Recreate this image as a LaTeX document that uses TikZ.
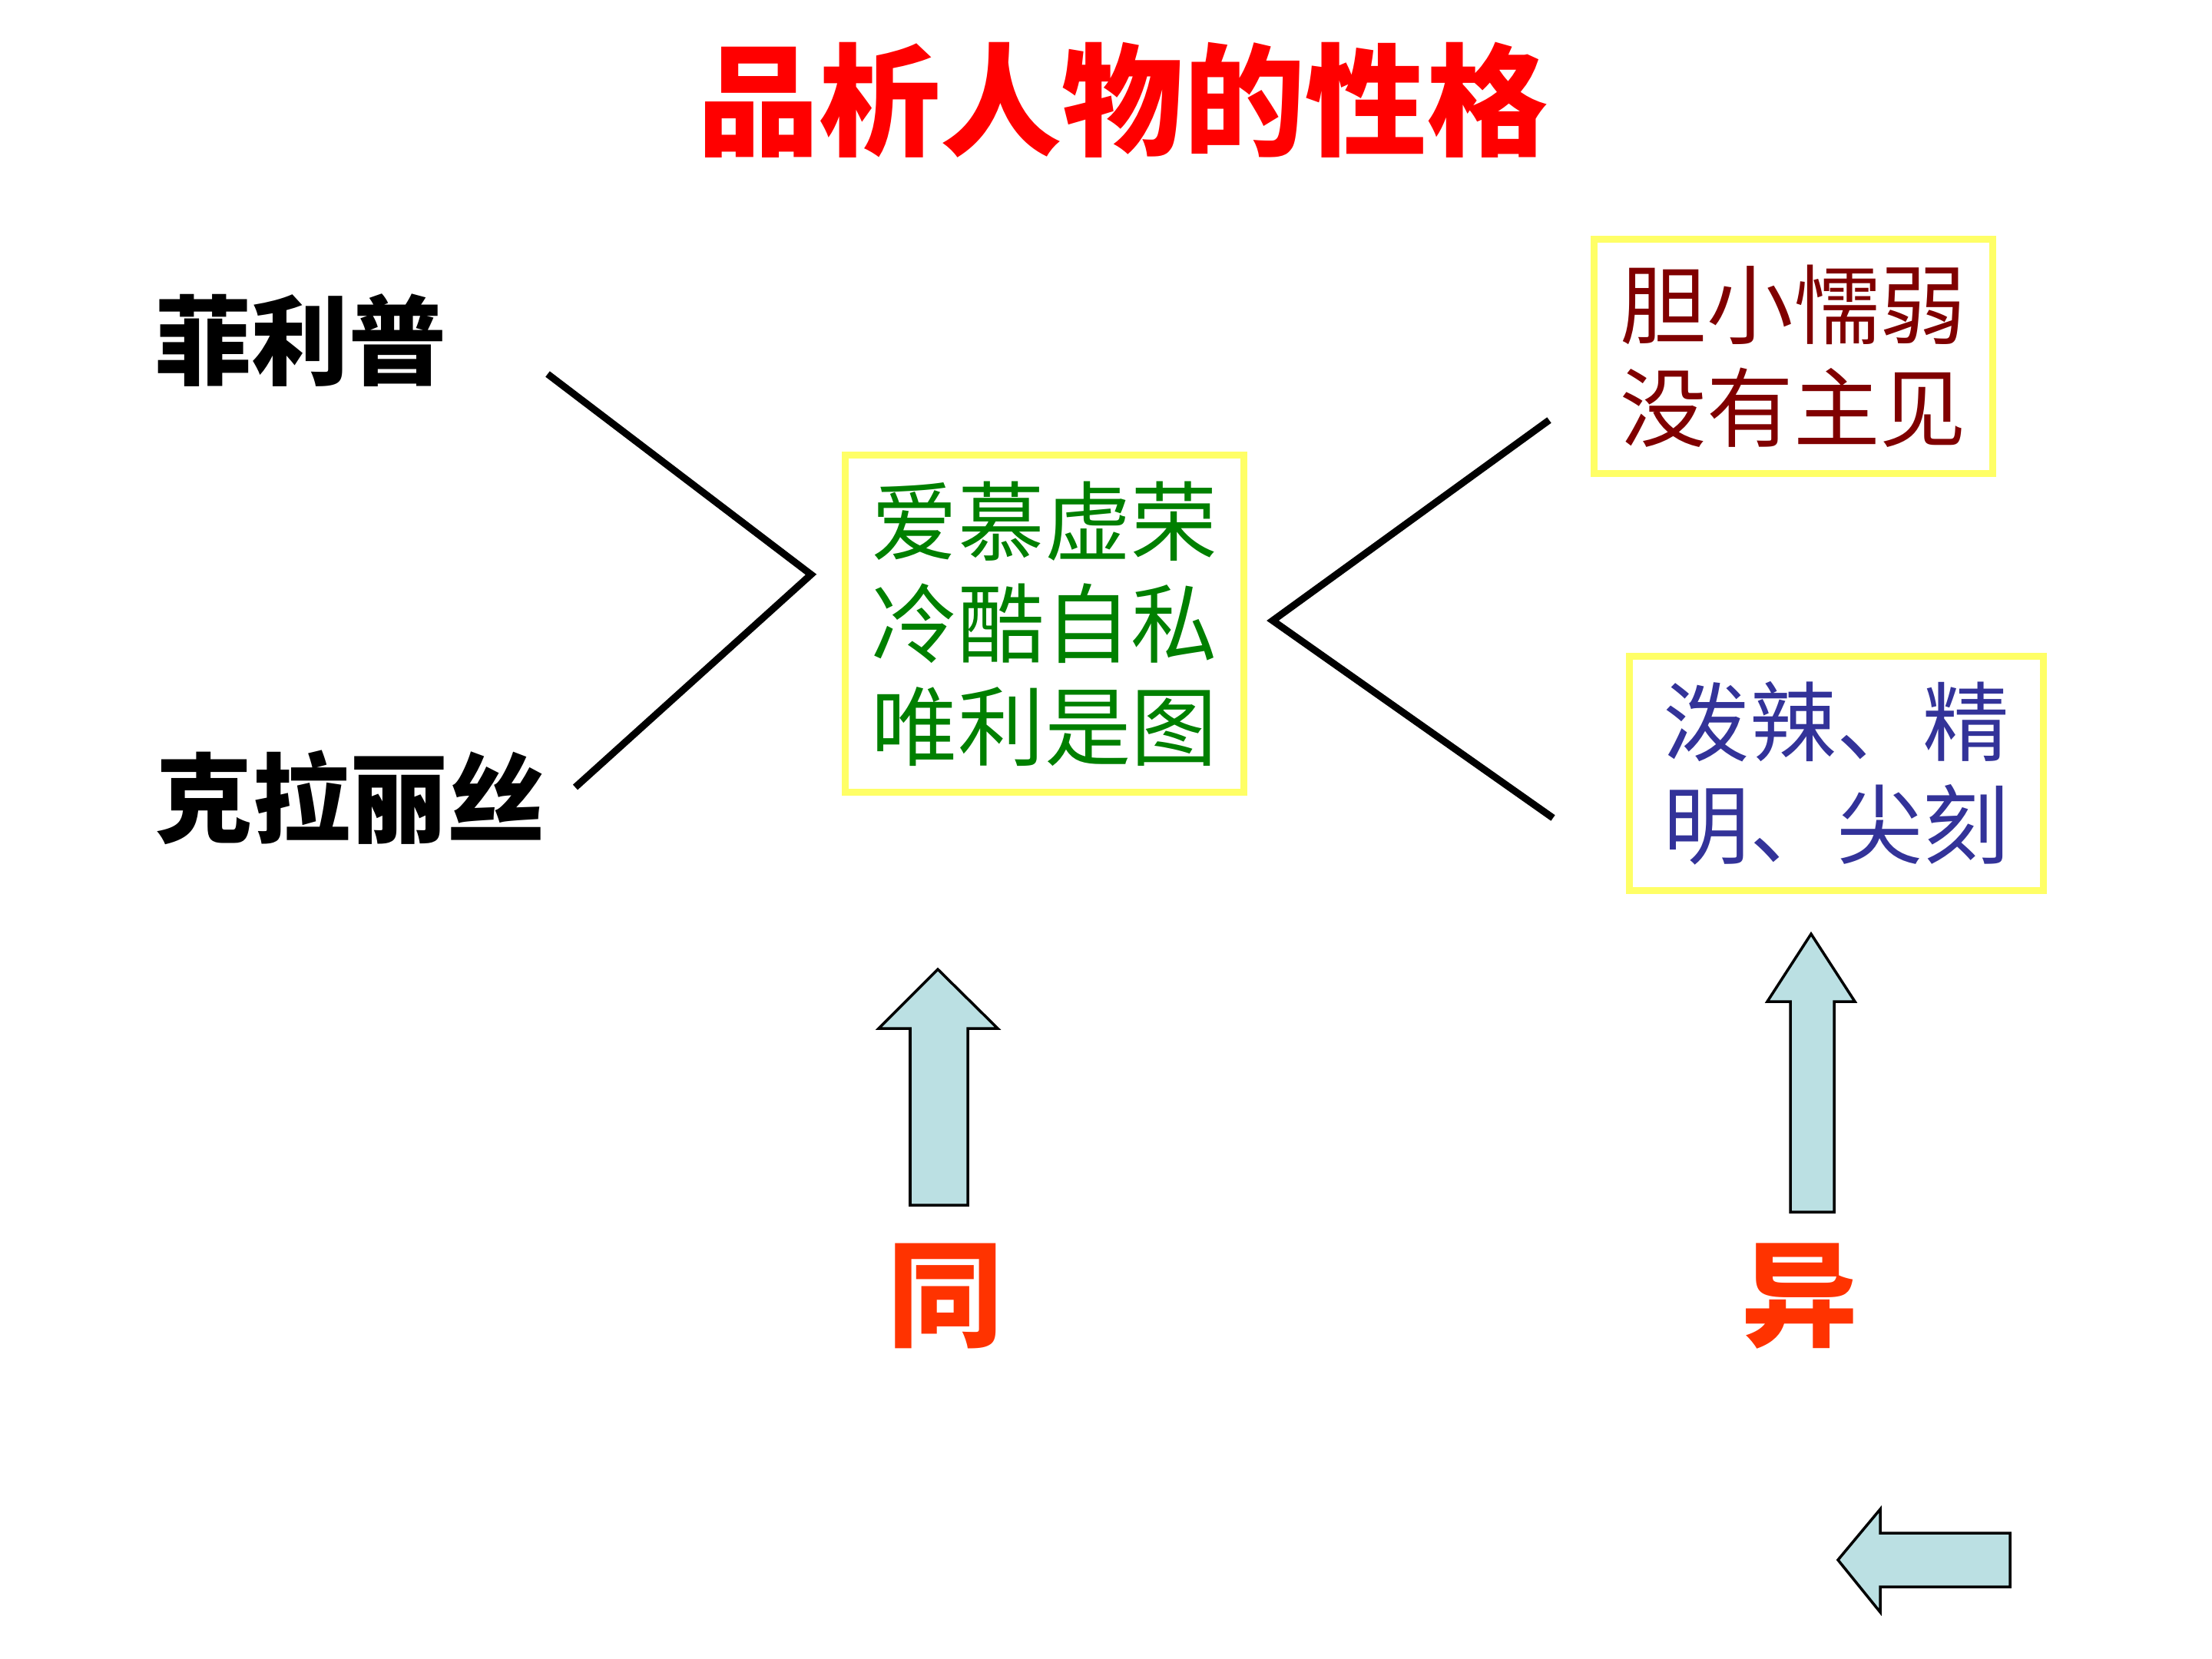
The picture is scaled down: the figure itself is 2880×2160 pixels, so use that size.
\documentclass[tikz,border=0pt]{standalone}
\usepackage{fontspec}
\newfontfamily\cjk{Noto Sans CJK SC}
\usetikzlibrary{positioning}
\definecolor{TitleRed}{HTML}{FF0000}
\definecolor{BoxYellow}{HTML}{FFFF66}
\definecolor{SameGreen}{HTML}{008000}
\definecolor{WeakRed}{HTML}{800000}
\definecolor{SharpBlue}{HTML}{333399}
\definecolor{MarkOrange}{HTML}{FF3300}
\definecolor{ArrowFill}{HTML}{BBE0E3}
\tikzset{
  trait/.style={draw=BoxYellow,line width=2.6pt,fill=white,align=left,inner sep=0pt,
                font=\cjk\fontsize{32}{38}\selectfont},
  person/.style={font=\cjk\bfseries\fontsize{36}{43}\selectfont,inner sep=0pt},
  marktext/.style={font=\cjk\bfseries\fontsize{43}{50}\selectfont,text=MarkOrange,inner sep=0pt},
  vline/.style={line width=2.6pt,black},
  fatarrow/.style={draw=black,line width=1pt,fill=ArrowFill,line join=miter}
}

\begin{document}
\begin{tikzpicture}[x=0.01cm,y=-0.01cm]
  \fill[white] (0,0) rectangle (2880,2160);
  \useasboundingbox (0,0) rectangle (2880,2160);
  % title
  \node[font=\cjk\bfseries\fontsize{45}{54}\selectfont,text=TitleRed,inner sep=0pt] (title)
        at (1462,130) {品析人物的性格};
  % the two characters
  \node[person] (philippe) at (391,443) {菲利普};
  \node[person] (clarisse) at (456,1038) {克拉丽丝};
  % trait boxes
  \node[trait,text=SameGreen,minimum width=5.19cm,minimum height=4.39cm] (common)
        at (1360,812) {爱慕虚荣\\冷酷自私\\唯利是图};
  \node[trait,text=WeakRed,minimum width=5.18cm,minimum height=3.05cm] (weak)
        at (2335,464) {胆小懦弱\\没有主见};
  \node[trait,text=SharpBlue,minimum width=5.38cm,minimum height=3.05cm] (sharp)
        at (2391,1007) {泼辣、精\\明、尖刻};
  % brackets
  \coordinate (fromphil) at (713,487);
  \coordinate (fromclar) at (749,1025);
  \coordinate (lefttip) at (1056,748);
  \coordinate (toweak) at (2017,547);
  \coordinate (tosharp) at (2022,1065);
  \coordinate (righttip) at (1657,808);
  \draw[vline] (fromphil) -- (lefttip) -- (fromclar);
  \draw[vline] (toweak) -- (righttip) -- (tosharp);
  % same / different
  \node[marktext] (same) at (1231,1688) {同};
  \node[marktext] (diff) at (2343,1688) {异};
  \draw[fatarrow] (1185,1569) -- (1185,1339) -- (1144,1339) -- (1221,1262)
        -- (1299,1339) -- (1260,1339) -- (1260,1569) -- cycle;
  \draw[fatarrow] (2331,1578) -- (2331,1304) -- (2301,1304) -- (2358,1216)
        -- (2415,1304) -- (2388,1304) -- (2388,1578) -- cycle;
  \draw[fatarrow] (2617,1996) -- (2448,1996) -- (2448,1965) -- (2393,2031)
        -- (2448,2099) -- (2448,2066) -- (2617,2066) -- cycle;
\end{tikzpicture}
\end{document}
